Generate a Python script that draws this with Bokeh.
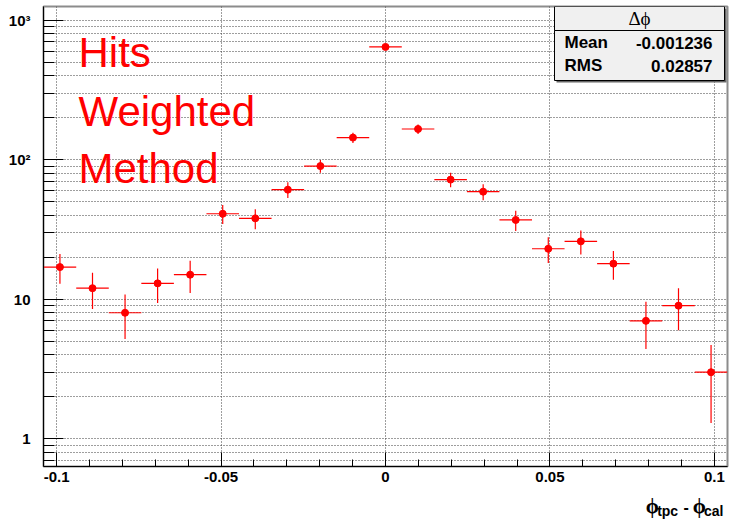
import numpy as np
from bokeh.plotting import figure
from bokeh.layouts import column
from bokeh.models import Range1d, FixedTicker, Label, BoxAnnotation
from bokeh.embed import file_html
from bokeh.resources import INLINE

# ---------------- data ----------------
bin_centers = [-0.0990, -0.0891, -0.0792, -0.0693, -0.0594, -0.0495, -0.0396,
               -0.0297, -0.0198, -0.0099, 0.0, 0.0099, 0.0198, 0.0297,
               0.0396, 0.0495, 0.0594, 0.0693, 0.0792, 0.0891, 0.0990]
counts = [17, 12, 8, 13, 15, 41, 38, 61, 90, 144, 643, 166, 72, 59, 37, 23,
          26, 18, 7, 9, 3]
count_errors = [4.1, 3.5, 2.8, 3.6, 3.9, 6.4, 6.2, 7.8, 9.5, 12.0, 25.4,
                12.9, 8.5, 7.7, 6.1, 4.8, 5.1, 4.2, 2.6, 3.0, 1.7]
bin_width = 0.0099

x_ticks = [-0.1, -0.05, 0.0, 0.05, 0.1]
x_tick_labels = ["-0.1", "-0.05", "0", "0.05", "0.1"]
y_ticks = [1, 10, 100, 1000]
y_tick_labels = ["1", "10", "10\u00b2", "10\u00b3"]

stats_title = "\u0394\u03d5"
stats_names = ["Mean", "RMS"]
stats_values = ["-0.001236", "0.02857"]
method_lines = ["Hits", "Weighted", "Method"]
x_title_parts = ["\u03d5", "tpc", "-", "\u03d5", "cal"]

# ---------------- main figure ----------------
p = figure(width=729, height=490,
           x_range=Range1d(-0.104, 0.104), y_range=Range1d(0.633, 1253),
           y_axis_type="log", output_backend="svg", toolbar_location=None,
           min_border_left=43, min_border_right=2, min_border_top=6,
           min_border_bottom=24)
p.background_fill_color = "white"
p.border_fill_color = "white"
p.outline_line_color = "#8c8c8c"
p.outline_line_width = 2

# ticks
x_minor = [round(-0.1 + 0.01 * i, 3) for i in range(21)]
xticker = FixedTicker(ticks=x_ticks, minor_ticks=x_minor)
y_minor = []
for dec in [0.1, 1, 10, 100, 1000]:
    for m in range(2, 10):
        y_minor.append(m * dec)
yticker = FixedTicker(ticks=y_ticks, minor_ticks=y_minor)

p.xaxis.ticker = xticker
p.yaxis.ticker = yticker
p.xgrid.ticker = xticker
p.ygrid.ticker = yticker

p.xaxis.major_label_overrides = dict(zip(x_ticks, x_tick_labels))
p.yaxis.major_label_overrides = dict(zip(y_ticks, y_tick_labels))

for ax in (p.xaxis, p.yaxis):
    ax.axis_line_color = "black"
    ax.axis_line_width = 1
    ax.major_tick_line_color = "black"
    ax.minor_tick_line_color = "black"
    ax.major_tick_out = 0
    ax.minor_tick_out = 0
    ax.major_label_text_font = "Liberation Sans"
    ax.major_label_text_font_style = "bold"
    ax.major_label_text_color = "black"

p.xaxis.major_tick_in = 14
p.xaxis.minor_tick_in = 7
p.xaxis.major_label_text_font_size = "15px"
p.xaxis.major_label_standoff = 5
p.yaxis.major_tick_in = 20
p.yaxis.minor_tick_in = 11
p.yaxis.major_label_text_font_size = "15px"
p.yaxis.major_label_standoff = 13

grid_color = "#3c3c3c"
p.xgrid.grid_line_color = grid_color
p.xgrid.grid_line_dash = "1 2"
p.xgrid.minor_grid_line_color = None
p.ygrid.grid_line_color = grid_color
p.ygrid.grid_line_dash = "1 2"
p.ygrid.minor_grid_line_color = grid_color
p.ygrid.minor_grid_line_dash = "1 2"

# ---------------- data marks ----------------
xc = np.array(bin_centers)
yc = np.array(counts, dtype=float)
ye = np.array(count_errors)
p.segment(x0=xc - bin_width / 2, x1=xc + bin_width / 2, y0=yc, y1=yc,
          line_color="red", line_width=1.2)
p.segment(x0=xc, x1=xc, y0=yc - ye, y1=yc + ye,
          line_color="red", line_width=1.2)
p.scatter(xc, yc, size=7, fill_color="red", line_color="red", marker="circle")

# ---------------- annotations (screen units relative to frame) ----------------
FL, FB = 44, 467


def sx(px):
    return px - FL


def sy(py):
    return FB - py


for line, mid in zip(method_lines, [52.5, 111.5, 168.5]):
    p.add_layout(Label(x=sx(79), y=sy(mid), x_units="screen", y_units="screen",
                       text=line, text_color="red", text_font_size="42px",
                       text_font="Liberation Sans",
                       text_baseline="middle", text_align="left"))

# stats box
p.add_layout(BoxAnnotation(left=sx(557), right=sx(727), top=sy(9), bottom=sy(83),
                           left_units="screen", right_units="screen",
                           top_units="screen", bottom_units="screen",
                           fill_color="#666666", fill_alpha=1, line_color=None))
for top, bottom in [(7, 31), (31, 81)]:
    p.add_layout(BoxAnnotation(left=sx(555), right=sx(725), top=sy(top), bottom=sy(bottom),
                               left_units="screen", right_units="screen",
                               top_units="screen", bottom_units="screen",
                               fill_color="#f0f0f0", fill_alpha=1,
                               line_color="black", line_width=1, line_alpha=1))
p.add_layout(Label(x=sx(640), y=sy(19), x_units="screen", y_units="screen",
                   text=stats_title, text_font="Liberation Serif",
                   text_font_size="19px", text_align="center",
                   text_baseline="middle", text_color="black"))
for name, val, yy in zip(stats_names, stats_values, [43, 66]):
    p.add_layout(Label(x=sx(565), y=sy(yy), x_units="screen", y_units="screen",
                       text=name, text_font="Liberation Sans", text_font_style="bold",
                       text_font_size="17px", text_align="left",
                       text_baseline="middle", text_color="black"))
    p.add_layout(Label(x=sx(713), y=sy(yy), x_units="screen", y_units="screen",
                       text=val, text_font="Liberation Sans", text_font_style="bold",
                       text_font_size="17px", text_align="right",
                       text_baseline="middle", text_color="black"))

# ---------------- strip below the plot holding the x-axis title ----------------
p2 = figure(width=729, height=29, x_range=Range1d(0, 729), y_range=Range1d(0, 29),
            output_backend="svg", toolbar_location=None,
            x_axis_location=None, y_axis_location=None,
            min_border_left=0, min_border_right=0, min_border_top=0,
            min_border_bottom=0)
p2.outline_line_color = None
p2.xgrid.visible = False
p2.ygrid.visible = False
p2.background_fill_color = "white"
p2.border_fill_color = "white"

# (left x in picture px, vertical centre in picture px, font, size)
title_style = [(643, 506, "Liberation Serif", "21px"),
               (655, 511, "Liberation Sans", "14px"),
               (683, 507, "Liberation Sans", "16px"),
               (693, 506, "Liberation Serif", "21px"),
               (705, 511, "Liberation Sans", "14px")]
for txt, (px, py, fnt, fs) in zip(x_title_parts, title_style):
    p2.add_layout(Label(x=px - 1, y=520 - py, text=txt, text_font=fnt,
                        text_font_style="bold", text_font_size=fs,
                        text_align="left", text_baseline="middle",
                        text_color="black"))

layout = column(p, p2, spacing=0)
open("out.html", "w").write(file_html(layout, INLINE))
